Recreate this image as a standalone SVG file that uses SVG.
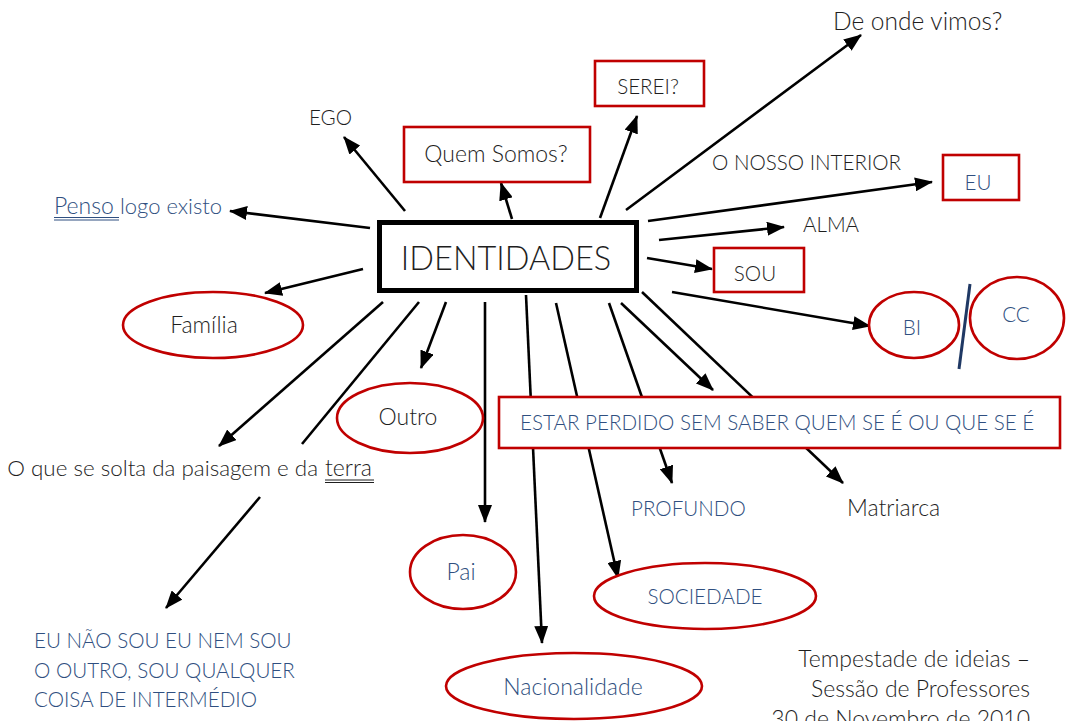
<svg xmlns="http://www.w3.org/2000/svg" width="1066" height="721" viewBox="0 0 1066 721">
<defs>
<marker id="ah" markerUnits="userSpaceOnUse" markerWidth="18" markerHeight="14" refX="17" refY="7" orient="auto">
<path d="M0,0 L18,7 L0,14 z" fill="#000"/>
</marker>
<style>
text{font-family:Lato,"Liberation Sans",sans-serif;font-weight:300;font-size:20.6px;fill:#1e1e1e}
.l{font-size:23px}
.b{fill:#2f4f80}
.mid{text-anchor:middle}
.end{text-anchor:end}
.c line{stroke:#000;stroke-width:2.6;fill:none}
.c line.a{marker-end:url(#ah)}
.rb{fill:#fff;stroke:#c00000;stroke-width:2.6}
</style>
</defs>
<rect width="1066" height="721" fill="#fff"/>
<g class="c" id="connectors">
<line class="a" x1="405" y1="211" x2="344" y2="137"/>
<line class="a" x1="512" y1="219" x2="501" y2="183"/>
<line class="a" x1="600" y1="218" x2="637" y2="116"/>
<line class="a" x1="626" y1="210" x2="861" y2="35"/>
<line class="a" x1="648" y1="221" x2="932" y2="182"/>
<line class="a" x1="659" y1="240" x2="784" y2="227"/>
<line class="a" x1="647" y1="258" x2="712" y2="269"/>
<line class="a" x1="672" y1="292" x2="870" y2="326"/>
<line class="a" x1="621" y1="303" x2="713" y2="390"/>
<line class="a" x1="642" y1="292" x2="843" y2="483"/>
<line class="a" x1="609" y1="303" x2="672" y2="483"/>
<line class="a" x1="556" y1="303" x2="618" y2="578"/>
<line class="a" x1="526" y1="295" x2="542" y2="643"/>
<line class="a" x1="485" y1="302" x2="485" y2="522"/>
<line class="a" x1="446" y1="302" x2="421" y2="368"/>
<line x1="419" y1="302" x2="302" y2="444"/>
<line class="a" x1="260" y1="497" x2="166" y2="608"/>
<line class="a" x1="383" y1="302" x2="219" y2="446"/>
<line class="a" x1="363" y1="269" x2="265" y2="293"/>
<line class="a" x1="370" y1="228" x2="230" y2="211"/>
</g>
<g id="identidades">
<rect x="379.5" y="222.5" width="257" height="68" fill="#fff" stroke="#000" stroke-width="5"/>
<text class="mid" x="506" y="270" style="font-size:32.5px">IDENTIDADES</text>
</g>
<g id="ego"><text x="309" y="125">EGO</text></g>
<g id="quem-somos">
<rect class="rb" x="404" y="127" width="186" height="55"/>
<text class="mid l" x="496" y="162">Quem Somos?</text>
</g>
<g id="serei">
<rect class="rb" x="595" y="61" width="109" height="45"/>
<text class="mid" x="648" y="94">SEREI?</text>
</g>
<g id="de-onde"><text x="833" y="30" style="font-size:24.5px">De onde vimos?</text></g>
<g id="interior"><text x="712" y="170">O NOSSO INTERIOR</text></g>
<g id="eu">
<rect class="rb" x="943" y="155" width="76" height="45"/>
<text class="mid b" x="978" y="190">EU</text>
</g>
<g id="alma"><text x="803" y="232">ALMA</text></g>
<g id="sou">
<rect class="rb" x="714" y="248" width="90" height="44"/>
<text class="mid" x="755" y="281">SOU</text>
</g>
<g id="bi">
<ellipse class="rb" cx="914" cy="325" rx="45" ry="33"/>
<text class="mid b" x="912" y="335">BI</text>
</g>
<line x1="970" y1="284" x2="959" y2="369" stroke="#1f3864" stroke-width="3"/>
<g id="cc">
<ellipse class="rb" cx="1017" cy="318" rx="47" ry="41"/>
<text class="mid b" x="1016" y="322">CC</text>
</g>
<g id="estar">
<rect class="rb" x="499" y="397" width="561" height="51"/>
<text class="b" x="520" y="430">ESTAR PERDIDO SEM SABER QUEM SE É OU QUE SE É</text>
</g>
<g id="profundo"><text class="b" x="631" y="516">PROFUNDO</text></g>
<g id="matriarca"><text class="l" x="847" y="516">Matriarca</text></g>
<g id="sociedade">
<ellipse class="rb" cx="705" cy="596" rx="111" ry="33"/>
<text class="mid b" x="705" y="604">SOCIEDADE</text>
</g>
<g id="nacionalidade">
<ellipse class="rb" cx="574" cy="686" rx="128" ry="33"/>
<text class="mid b l" x="573" y="695">Nacionalidade</text>
</g>
<g id="pai">
<ellipse class="rb" cx="463" cy="572" rx="53" ry="37"/>
<text class="mid b l" x="461" y="580">Pai</text>
</g>
<g id="outro">
<ellipse class="rb" cx="410" cy="418" rx="73" ry="35"/>
<text class="mid l" x="408" y="425">Outro</text>
</g>
<g id="familia">
<ellipse class="rb" cx="213" cy="325" rx="90" ry="33"/>
<text class="mid l" x="204" y="333">Família</text>
</g>
<g id="penso">
<text class="b l" x="54" y="214">Penso</text>
<text class="b" x="120" y="214" style="font-size:22px">logo existo</text>
<line x1="54" y1="217.5" x2="119" y2="217.5" stroke="#2f4f80" stroke-width="1"/>
<line x1="54" y1="220" x2="119" y2="220" stroke="#2f4f80" stroke-width="1"/>
</g>
<g id="solta">
<text class="end" x="318" y="476" style="font-size:22.4px">O que se solta da paisagem e da</text>
<text class="l" x="325" y="476">terra</text>
<line x1="325" y1="480" x2="374" y2="480" stroke="#1e1e1e" stroke-width="1"/>
<line x1="325" y1="482.5" x2="374" y2="482.5" stroke="#1e1e1e" stroke-width="1"/>
</g>
<g id="eu-nao-sou">
<text class="b" x="34" y="648">EU NÃO SOU EU NEM SOU</text>
<text class="b" x="34" y="678">O OUTRO, SOU QUALQUER</text>
<text class="b" x="34" y="707">COISA DE INTERMÉDIO</text>
</g>
<g id="credits">
<text class="end l" x="1030" y="667">Tempestade de ideias –</text>
<text class="end l" x="1030" y="697">Sessão de Professores</text>
<text class="end l" x="1030" y="727">30 de Novembro de 2010</text>
</g>
</svg>
